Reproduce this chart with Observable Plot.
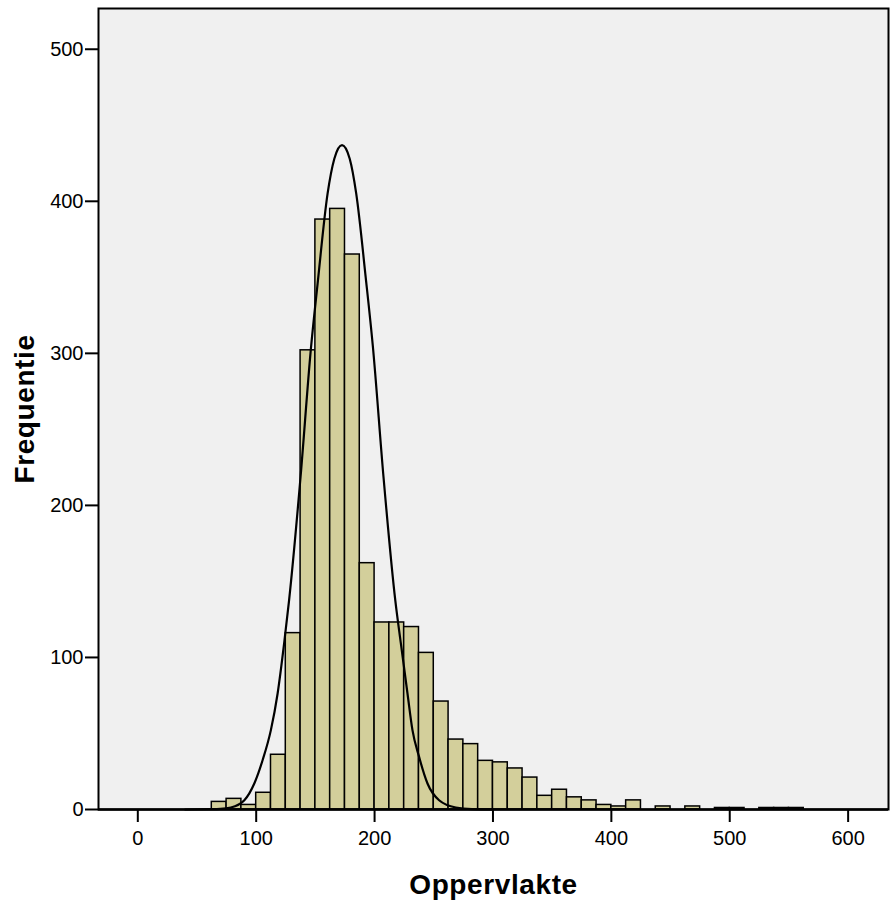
<!DOCTYPE html>
<html>
<head>
<meta charset="utf-8">
<script src="https://cdn.jsdelivr.net/npm/d3@7"></script>
<script src="https://cdn.jsdelivr.net/npm/@observablehq/plot@0.6"></script>
<style>
  html, body { margin: 0; padding: 0; background: #ffffff; }
  #chart { width: 891px; height: 905px; }
  .axis-title { letter-spacing: 0.6px; }
</style>
</head>
<body>
<div id="chart"></div>
<script>
// ---- data ----
const binWidth = 12.5;
const binLower = [62.5, 75, 87.5, 100, 112.5, 125, 137.5, 150, 162.5, 175, 187.5, 200, 212.5, 225, 237.5, 250, 262.5, 275, 287.5, 300, 312.5, 325, 337.5, 350, 362.5, 375, 387.5, 400, 412.5, 425, 437.5, 450, 462.5, 475, 487.5, 500, 512.5, 525, 537.5, 550];
const binCount = [5, 7, 3, 11, 36, 116, 302, 388, 395, 365, 162, 123, 123, 120, 103, 71, 46, 43, 32, 31, 27, 21, 9, 13, 8, 6, 3, 2, 6, 0, 2, 0, 2, 0, 1, 1, 0, 1, 1, 1];

// normal curve, points
const curveX = [40, 60, 69.7, 78.6, 90, 98.4, 105.4, 112.4, 118.1, 123.6, 127.8, 137.5, 146.2, 151.9, 160.3, 166, 172.5, 179, 184.5, 192.5, 198.5, 207.5, 217.5, 222.2, 227.8, 232, 237.6, 244.7, 254.5, 268.6, 282.3, 300];
const curveY = [0, 0.2, 0.4, 1.3, 6.1, 17.1, 32.4, 52.2, 76.3, 109.2, 137.7, 219, 303, 346, 405, 428, 437, 428, 405, 350, 305, 219, 137.5, 109.2, 76.3, 52.2, 34.6, 17.1, 6.1, 1.3, 0.2, 0];

const xTicks = [0, 100, 200, 300, 400, 500, 600];
const yTicks = [0, 100, 200, 300, 400, 500];
const xTitle = "Oppervlakte";
const yTitle = "Frequentie";

// ---- build tables ----
const bars = binLower.map((lo, i) => ({x1: lo, x2: lo + binWidth, count: binCount[i]})).filter(d => d.count > 0);
const curve = curveX.map((x, i) => ({x, y: curveY[i]}));

const chart = Plot.plot({
  width: 891,
  height: 905,
  marginLeft: 98,
  marginRight: 3,
  marginTop: 8,
  marginBottom: 96,
  style: {fontFamily: "'Liberation Sans', Arial, sans-serif", background: "#ffffff", color: "#000"},
  x: {domain: [-33.2, 634.1]},
  y: {domain: [0, 526.8]},
  marks: [
    Plot.frame({fill: "#f0f0f0", stroke: null}),
    Plot.rectY(bars, {x1: "x1", x2: "x2", y: "count", fill: "#d3cf9b", stroke: "#000", strokeWidth: 1.5, inset: 0}),
    Plot.line(curve, {x: "x", y: "y", stroke: "#000", strokeWidth: 2.2, curve: "monotone-x"}),
    Plot.frame({stroke: "#000", strokeWidth: 2}),
    Plot.ruleY([0], {stroke: "#000", strokeWidth: 2.6}),
    Plot.axisX({ticks: xTicks, tickSize: 13, tickPadding: 8, fontSize: 20, strokeWidth: 2, label: null, tickFormat: d => String(d)}),
    Plot.axisY({ticks: yTicks, tickSize: 13, tickPadding: 2, fontSize: 20, strokeWidth: 2, label: null, tickFormat: d => String(d)}),
    Plot.text([xTitle], {frameAnchor: "bottom", dy: 76, fontSize: 28, fontWeight: "bold", text: d => d, lineAnchor: "middle", textAnchor: "middle", className: "axis-title"}),
    Plot.text([yTitle], {frameAnchor: "left", dx: -73.4, rotate: -90, fontSize: 28, fontWeight: "bold", text: d => d, lineAnchor: "middle", textAnchor: "middle", className: "axis-title"})
  ]
});
document.getElementById("chart").appendChild(chart);
</script>
</body>
</html>
